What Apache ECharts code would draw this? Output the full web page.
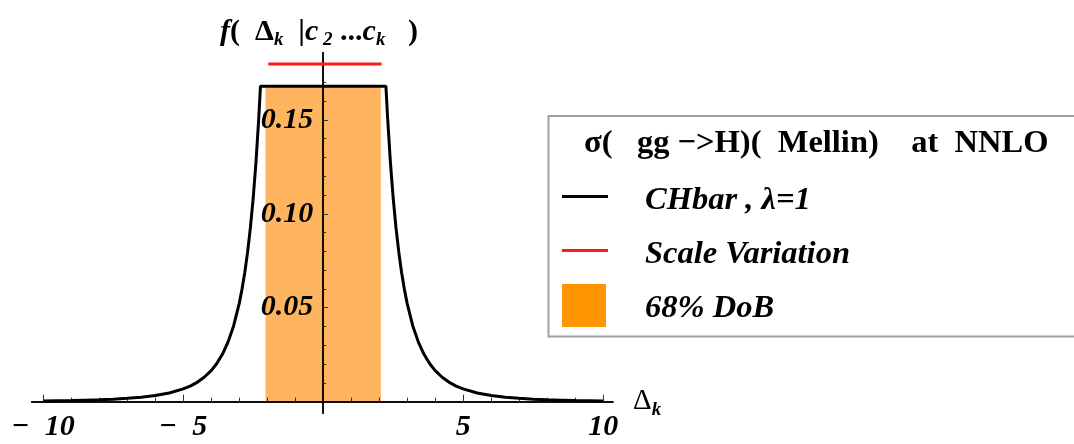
<!DOCTYPE html>
<html>
<head>
<meta charset="utf-8">
<script src="https://cdn.jsdelivr.net/npm/echarts@6/dist/echarts.min.js"></script>
<style>
  html, body { margin: 0; padding: 0; background: #fff; }
  #chart { width: 1074px; height: 444px; }
</style>
</head>
<body>
<div id="chart"></div>
<script>
  // CHbar curve
  const curveX = [-10, -9.5, -9, -8.5, -8, -7.5, -7, -6.5, -6, -5.5, -5, -4.75, -4.5, -4.25, -4, -3.8, -3.6, -3.4, -3.2, -3, -2.9, -2.8, -2.7, -2.6, -2.5, -2.4, -2.3, -2.24,
                  2.24, 2.3, 2.4, 2.5, 2.6, 2.7, 2.8, 2.9, 3, 3.2, 3.4, 3.6, 3.8, 4, 4.25, 4.5, 4.75, 5, 5.5, 6, 6.5, 7, 7.5, 8, 8.5, 9, 9.5, 10];
  const curveY = [0.0004, 0.0005, 0.0006, 0.0008, 0.0010, 0.0013, 0.0018, 0.0024, 0.0033, 0.0046, 0.0068, 0.0083, 0.0103, 0.0130, 0.0165, 0.0203, 0.0252, 0.0317, 0.0403, 0.0522, 0.0598, 0.0688, 0.0796, 0.0926, 0.1083, 0.1275, 0.1512, 0.168,
                  0.168, 0.1512, 0.1275, 0.1083, 0.0926, 0.0796, 0.0688, 0.0598, 0.0522, 0.0403, 0.0317, 0.0252, 0.0203, 0.0165, 0.0130, 0.0103, 0.0083, 0.0068, 0.0046, 0.0033, 0.0024, 0.0018, 0.0013, 0.0010, 0.0008, 0.0006, 0.0005, 0.0004];
  // 68% DoB band
  const bandX = [-2.06, 2.06];
  const bandTop = 0.168;
  // scale variation
  const scaleX = [-1.96, 2.085];
  const scaleY = 0.1798;
  // ticks
  const xMajor = [-10, -5, 5, 10];
  const xMinor = [-9, -8, -7, -6, -4, -3, -2, -1, 1, 2, 3, 4, 6, 7, 8, 9];
  const yMajor = [0.05, 0.10, 0.15];
  const yMinor = [0.01, 0.02, 0.03, 0.04, 0.06, 0.07, 0.08, 0.09, 0.11, 0.12, 0.13, 0.14, 0.16, 0.17, 0.18];

  const FONT = '"Liberation Serif", "DejaVu Serif", serif';
  const X_MIN = -10.41, X_MAX = 10.35, Y_MIN = -0.0062, Y_MAX = 0.1858;
  const W = 1074, H = 444;
  const G = { left: 31.7, right: 461, top: 52.7, bottom: 30.7 };
  // axes cross at (0,0): shift them inside the grid
  const gw = W - G.left - G.right, gh = H - G.top - G.bottom;
  const yAxisShift = -(0 - X_MIN) / (X_MAX - X_MIN) * gw;
  const xAxisShift = -(0 - Y_MIN) / (Y_MAX - Y_MIN) * gh;

  let myChart = echarts.init(document.getElementById('chart'));

  let curve = curveX.map((x, i) => [x, curveY[i]]);

  function xAx(ticks, len, withLabel) {
    return {
      type: 'value', min: X_MIN, max: X_MAX, position: 'bottom', offset: xAxisShift, z: 5,
      splitLine: { show: false },
      axisLine: { show: true, onZero: false, lineStyle: { color: '#000', width: 1.5 } },
      axisTick: { show: true, inside: true, length: len, customValues: ticks, lineStyle: { color: '#333', width: 1 } },
      axisLabel: {
        show: withLabel, customValues: ticks, margin: 11,
        fontFamily: FONT, fontSize: 30, fontWeight: 'bold', fontStyle: 'italic', color: '#000',
        formatter: v => v < 0 ? '\u2212\u2002' + Math.abs(v) : String(v)
      },
      name: withLabel ? '{d|Δ}{s|k}' : '',
      nameLocation: 'end', nameGap: 20,
      nameTextStyle: {
        rich: {
          d: { fontFamily: FONT, fontSize: 29, lineHeight: 36, color: '#000' },
          s: { fontFamily: FONT, fontSize: 19, fontStyle: 'italic', fontWeight: 'bold', lineHeight: 19, verticalAlign: 'bottom', color: '#000' }
        }
      }
    };
  }
  function yAx(ticks, len, withLabel) {
    return {
      type: 'value', min: Y_MIN, max: Y_MAX, position: 'left', offset: yAxisShift, z: 5,
      splitLine: { show: false },
      axisLine: { show: true, onZero: false, lineStyle: { color: '#000', width: 1.5 } },
      axisTick: { show: true, inside: true, length: len, customValues: ticks, lineStyle: { color: '#333', width: 1 } },
      axisLabel: {
        show: withLabel, customValues: ticks, margin: 10,
        fontFamily: FONT, fontSize: 30, fontWeight: 'bold', fontStyle: 'italic', color: '#000',
        formatter: v => v.toFixed(2)
      }
    };
  }

  const sub = { fontFamily: FONT, fontSize: 19, fontWeight: 'bold', fontStyle: 'italic', lineHeight: 19, verticalAlign: 'bottom', fill: '#000' };
  const main = { fontFamily: FONT, fontSize: 30, fontWeight: 'bold', lineHeight: 36, fill: '#000' };
  const mainIt = Object.assign({}, main, { fontStyle: 'italic' });
  const itemText = { fontFamily: FONT, fontSize: 32.5, fontWeight: 'bold', fontStyle: 'italic', fill: '#000', verticalAlign: 'middle' };

  myChart.setOption({
    animation: false,
    backgroundColor: '#fff',
    grid: { left: G.left, right: G.right, top: G.top, bottom: G.bottom, containLabel: false, outerBoundsMode: 'none' },
    xAxis: [xAx(xMajor, 7, true), xAx(xMinor, 4, false)],
    yAxis: [yAx(yMajor, 5, true), yAx(yMinor, 3, false)],
    series: [
      {
        name: '68% DoB', type: 'line', z: 1,
        data: bandX.map(x => [x, bandTop]),
        showSymbol: false, lineStyle: { width: 0 },
        areaStyle: { color: '#FFB45F', opacity: 1 }
      },
      {
        name: 'Scale Variation', type: 'line', z: 6,
        data: scaleX.map(x => [x, scaleY]),
        showSymbol: false, lineStyle: { color: '#FF1A1A', width: 3 }
      },
      {
        name: 'CHbar, λ=1', type: 'line', z: 7,
        data: curve,
        showSymbol: false, lineStyle: { color: '#000', width: 3 }
      }
    ],
    graphic: [
      // plot title
      {
        type: 'text', x: 319, y: 32,
        style: {
          text: '{fi|f}{m|(  Δ}{s|k}{mi|  |c}{s| 2}{m| ...}{mi|c}{s|k}{m|   )}',
          align: 'center', verticalAlign: 'middle',
          rich: { fi: mainIt, m: main, mi: mainIt, s: sub }
        }
      },
      // legend box
      {
        type: 'rect', shape: { x: 548.5, y: 116, width: 540, height: 220.5 },
        style: { fill: '#fff', stroke: '#a0a0a0', lineWidth: 2 }
      },
      {
        type: 'text', x: 584, y: 144,
        style: { text: 'σ(   gg −>H)(  Mellin)    at  NNLO', fontFamily: FONT, fontSize: 32.5, fontWeight: 'bold', fill: '#000', verticalAlign: 'middle' }
      },
      { type: 'line', shape: { x1: 562, y1: 196.5, x2: 608, y2: 196.5 }, style: { stroke: '#000', lineWidth: 3 } },
      { type: 'text', x: 645, y: 201, style: Object.assign({ text: 'CHbar , λ=1' }, itemText) },
      { type: 'line', shape: { x1: 562, y1: 250.5, x2: 608, y2: 250.5 }, style: { stroke: '#FF1A1A', lineWidth: 3 } },
      { type: 'text', x: 645, y: 255, style: Object.assign({ text: 'Scale Variation' }, itemText) },
      { type: 'rect', shape: { x: 562, y: 284, width: 44, height: 43 }, style: { fill: '#FF9500' } },
      { type: 'text', x: 645, y: 309, style: Object.assign({ text: '68% DoB' }, itemText) }
    ]
  });
</script>
</body>
</html>
